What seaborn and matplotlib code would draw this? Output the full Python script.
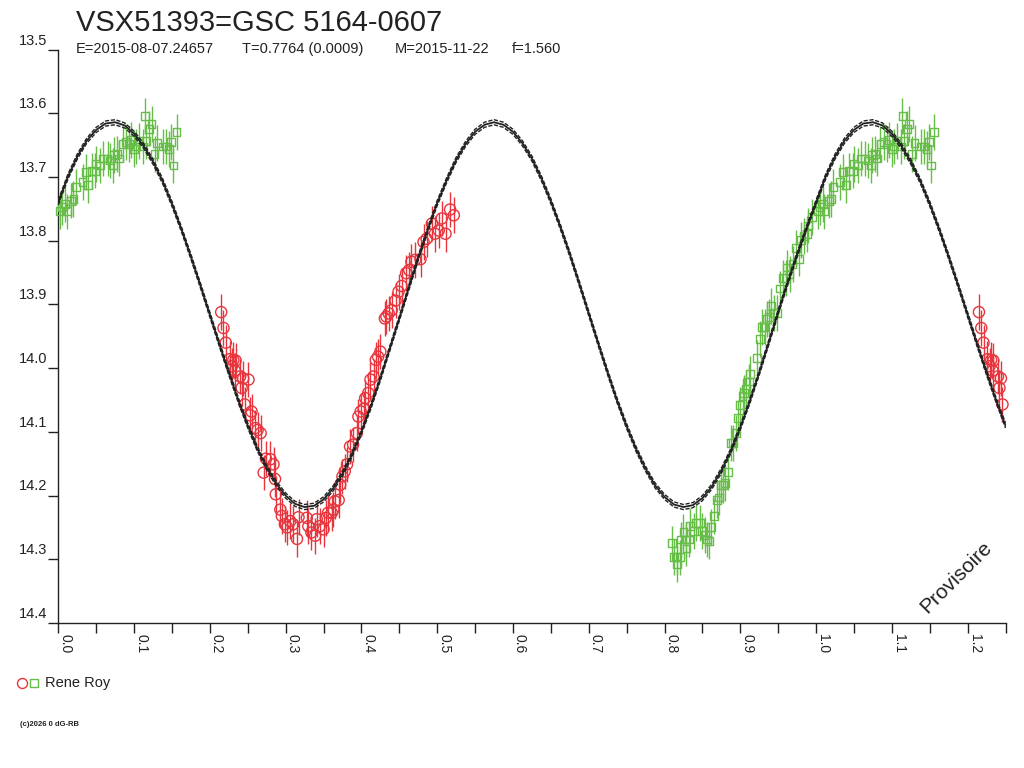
import numpy as np
import pandas as pd
import matplotlib
matplotlib.use("Agg")
import matplotlib.pyplot as plt
import seaborn as sns
from matplotlib.lines import Line2D
from matplotlib.transforms import ScaledTranslation

# ---------------- texts ----------------
title = "VSX51393=GSC 5164-0607"
subtitle_parts = ["E=2015-08-07.24657", "T=0.7764 (0.0009)", "M=2015-11-22", "f=1.560"]
observer = "Rene Roy"
credit = "(c)2026 0 dG-RB"
watermark = "Provisoire"

# ---------------- data (phase, magnitude) ----------------
green_phase = [
    0.810, 0.813, 0.817, 0.817, 0.820, 0.822, 0.825, 0.828, 0.829, 0.832,
    0.834, 0.839, 0.842, 0.847, 0.849, 0.853, 0.856, 0.859, 0.861, 0.865,
    0.869, 0.872, 0.874, 0.877, 0.880, 0.884, 0.888, 0.890, 0.894, 0.897,
    0.900, 0.903, 0.905, 0.908, 0.911, 0.913, 0.922, 0.926, 0.929, 0.932,
    0.935, 0.938, 0.941, 0.944, 0.948, 0.952, 0.956, 0.960, 0.962, 0.965,
    0.969, 0.973, 0.977, 0.980, 0.984, 0.988, 0.989, 0.995,
    0.002, 0.005, 0.009, 0.011, 0.017, 0.020, 0.023, 0.032, 0.036, 0.039,
    0.044, 0.049, 0.050, 0.055, 0.059, 0.065, 0.068, 0.072, 0.074, 0.078,
    0.080, 0.085, 0.089, 0.093, 0.096, 0.100, 0.103, 0.107, 0.112, 0.114,
    0.116, 0.120, 0.123, 0.127, 0.130, 0.138, 0.142, 0.146, 0.149, 0.152,
    0.156,
]
green_mag = [
    14.275, 14.296, 14.297, 14.307, 14.297, 14.269, 14.257, 14.269, 14.283, 14.269,
    14.248, 14.256, 14.243, 14.243, 14.256, 14.262, 14.269, 14.271, 14.249, 14.232,
    14.207, 14.203, 14.184, 14.184, 14.180, 14.163, 14.118, 14.118, 14.102, 14.078,
    14.058, 14.044, 14.039, 14.033, 14.021, 14.009, 13.984, 13.954, 13.935, 13.935,
    13.923, 13.920, 13.902, 13.913, 13.913, 13.875, 13.858, 13.858, 13.842, 13.852,
    13.836, 13.811, 13.828, 13.799, 13.793, 13.789, 13.776, 13.763,
    13.753, 13.747, 13.742, 13.754, 13.737, 13.734, 13.716, 13.708, 13.692, 13.712,
    13.691, 13.690, 13.680, 13.682, 13.671, 13.671, 13.674, 13.682, 13.665, 13.664,
    13.671, 13.648, 13.645, 13.648, 13.642, 13.656, 13.652, 13.643, 13.652, 13.604,
    13.644, 13.624, 13.617, 13.664, 13.647, 13.652, 13.652, 13.656, 13.645, 13.682,
    13.629,
]
red_phase = [
    0.215, 0.218, 0.221, 0.226, 0.229, 0.231, 0.233, 0.234, 0.240, 0.242,
    0.244, 0.246, 0.251, 0.253, 0.255, 0.260, 0.263, 0.267, 0.271, 0.274,
    0.280, 0.284, 0.286, 0.287, 0.293, 0.295, 0.299, 0.302, 0.306, 0.310,
    0.315, 0.317, 0.328, 0.330, 0.334, 0.339, 0.341, 0.345, 0.350, 0.353,
    0.356, 0.361, 0.363, 0.365, 0.370, 0.372, 0.375, 0.378, 0.381, 0.385,
    0.389, 0.394, 0.396, 0.399, 0.403, 0.405, 0.409, 0.412, 0.416, 0.419,
    0.422, 0.425, 0.431, 0.433, 0.436, 0.440, 0.445, 0.449, 0.453, 0.459,
    0.463, 0.466, 0.471, 0.478, 0.482, 0.486, 0.493, 0.497, 0.502, 0.506,
    0.511, 0.517, 0.522,
]
red_mag = [
    13.912, 13.937, 13.960, 13.986, 13.997, 13.987, 14.004, 13.988, 14.013, 14.031,
    14.016, 14.057, 14.018, 14.074, 14.068, 14.094, 14.097, 14.102, 14.164, 14.142,
    14.143, 14.151, 14.174, 14.198, 14.222, 14.232, 14.245, 14.250, 14.240, 14.245,
    14.268, 14.234, 14.235, 14.248, 14.258, 14.263, 14.237, 14.248, 14.253, 14.235,
    14.227, 14.227, 14.222, 14.209, 14.207, 14.183, 14.170, 14.162, 14.151, 14.123,
    14.120, 14.102, 14.076, 14.068, 14.064, 14.047, 14.039, 14.018, 14.013, 13.987,
    13.982, 13.974, 13.922, 13.919, 13.914, 13.909, 13.894, 13.880, 13.871, 13.851,
    13.846, 13.833, 13.830, 13.829, 13.802, 13.797, 13.773, 13.789, 13.784, 13.765,
    13.789, 13.751, 13.760,
]
mag_err = 0.028

# model light curve over one cycle, sampled every 0.0125 in phase
model_step = 0.0125
model_mag = [
    13.740, 13.700, 13.668, 13.643, 13.626, 13.616, 13.614, 13.619, 13.632, 13.651,
    13.676, 13.706, 13.742, 13.782, 13.825, 13.870, 13.916, 13.962, 14.007, 14.050,
    14.090, 14.126, 14.156, 14.181, 14.200, 14.213, 14.218, 14.216, 14.206, 14.189,
    14.166, 14.136, 14.100, 14.060, 14.016, 13.969, 13.922, 13.874, 13.827, 13.783,
    13.741, 13.705, 13.673, 13.648, 13.629, 13.618, 13.614, 13.618, 13.629, 13.647,
    13.671, 13.702, 13.738, 13.778, 13.821, 13.867, 13.914, 13.961, 14.007, 14.051,
    14.091, 14.127, 14.158, 14.184, 14.202, 14.214, 14.218, 14.215, 14.204, 14.186,
    14.161, 14.130, 14.093, 14.052, 14.007, 13.960, 13.912, 13.866, 13.822, 13.780,
]
model_band = 0.004

x_ticks = [0.0, 0.1, 0.2, 0.3, 0.4, 0.5, 0.6, 0.7, 0.8, 0.9, 1.0, 1.1, 1.2]
x_minor = [0.05, 0.15, 0.25, 0.35, 0.45, 0.55, 0.65, 0.75, 0.85, 0.95, 1.05, 1.15, 1.25]
y_ticks = [13.5, 13.6, 13.7, 13.8, 13.9, 14.0, 14.1, 14.2, 14.3, 14.4]
x_max = 1.25

RED = "#e8343c"
GREEN = "#66bd48"
INK = "#222222"

# ---------------- style ----------------
sns.set_theme(style="white")
plt.rcParams["font.family"] = ["Liberation Sans", "DejaVu Sans"]
plt.rcParams["axes.edgecolor"] = INK
plt.rcParams["text.color"] = INK
plt.rcParams["xtick.color"] = INK
plt.rcParams["ytick.color"] = INK

W, H = 1024, 768
fig = plt.figure(figsize=(W / 100, H / 100), dpi=100)
fig.patch.set_facecolor("white")
ax = fig.add_axes([58.3 / W, 1 - 623 / H, (1005.5 - 58.3) / W, (623 - 49.6) / H])
ax.set_facecolor("white")


def unfold(ph, mg):
    ph = np.asarray(ph, float)
    mg = np.asarray(mg, float)
    x = np.concatenate([ph, ph + 1.0])
    y = np.concatenate([mg, mg])
    keep = (x >= 0) & (x <= x_max)
    return pd.DataFrame({"phase": x[keep], "mag": y[keep]})


green_df = unfold(green_phase, green_mag)
red_df = unfold(red_phase, red_mag)

for df, col, mk, size in [(green_df, GREEN, "s", 32), (red_df, RED, "o", 64)]:
    ax.errorbar(df["phase"], df["mag"], yerr=mag_err, fmt="none", ecolor=col,
                elinewidth=1.0, capsize=0, zorder=2, clip_on=False)
    sns.scatterplot(data=df, x="phase", y="mag", ax=ax, marker=mk, s=size,
                    color=col, facecolor="none", edgecolor=col, linewidth=1.0,
                    zorder=3, clip_on=False, legend=False)

# model curve (central + two offset envelope curves)
mm = np.asarray(model_mag, float)
mp = np.arange(len(mm)) * model_step
mx = np.concatenate([mp, mp + 1.0])
my = np.concatenate([mm, mm])
keep = mx <= x_max + 1e-9
model_df = pd.DataFrame({"phase": mx[keep], "mag": my[keep]})

for off, ls, lw in [(-model_band, (0, (3, 1.2)), 1.0), (model_band, (0, (3, 1.2)), 1.0), (0.0, "-", 1.3)]:
    sns.lineplot(x=model_df["phase"], y=model_df["mag"] + off, ax=ax, color=INK,
                 linewidth=lw, linestyle=ls, estimator=None, sort=False, zorder=4)

# ---------------- axes ----------------
ax.set_xlim(0, x_max)
ax.set_ylim(max(y_ticks), min(y_ticks))
ax.set_xlabel("")
ax.set_ylabel("")
ax.grid(False)
for side in ["top", "right"]:
    ax.spines[side].set_visible(False)
for side in ["left", "bottom"]:
    ax.spines[side].set_color(INK)
    ax.spines[side].set_linewidth(1.0)

ax.set_xticks(x_ticks)
ax.set_xticks(x_minor, minor=True)
ax.set_xticklabels([f"{v:.1f}" for v in x_ticks], rotation=270, ha="left", va="top",
                   fontsize=10, color=INK)
ax.tick_params(axis="x", which="both", direction="out", length=7.2, width=1.0,
               color=INK, pad=1.0, bottom=True, top=False)

ax.set_yticks(y_ticks)
ax.set_yticklabels([f"{v:.1f}" for v in y_ticks], fontsize=10.5, color=INK)
ax.tick_params(axis="y", which="both", direction="out", length=7.2, width=1.0,
               color=INK, pad=1.0, left=True, right=False)
shift = ScaledTranslation(0, 1.5 / 72, fig.dpi_scale_trans)
for lab in ax.get_yticklabels():
    lab.set_verticalalignment("bottom")
    lab.set_transform(lab.get_transform() + shift)

# ---------------- texts ----------------
fig.text(76 / W, 1 - 31 / H, title, fontsize=21, color=INK, ha="left", va="baseline")
for xpix, part in zip([76, 242, 395, 512], subtitle_parts):
    fig.text(xpix / W, 1 - 53 / H, part, fontsize=10.5, color=INK, ha="left", va="baseline")

fig.add_artist(Line2D([22 / W], [1 - 683 / H], marker="o", markersize=7.2, mfc="none",
                      mec=RED, mew=1.0, linestyle="none", transform=fig.transFigure))
fig.add_artist(Line2D([34 / W], [1 - 683 / H], marker="s", markersize=5.4, mfc="none",
                      mec=GREEN, mew=1.0, linestyle="none", transform=fig.transFigure))
fig.text(45 / W, 1 - 683 / H, observer, fontsize=10.5, color=INK, ha="left", va="center")

fig.text(20 / W, 1 - 725 / H, credit, fontsize=5.5, fontweight="bold", color=INK,
         ha="left", va="center")
fig.text(956 / W, 1 - 577 / H, watermark, fontsize=15, rotation=45, color=INK,
         ha="center", va="center")

fig.savefig("out.png", dpi=100, facecolor="white")
